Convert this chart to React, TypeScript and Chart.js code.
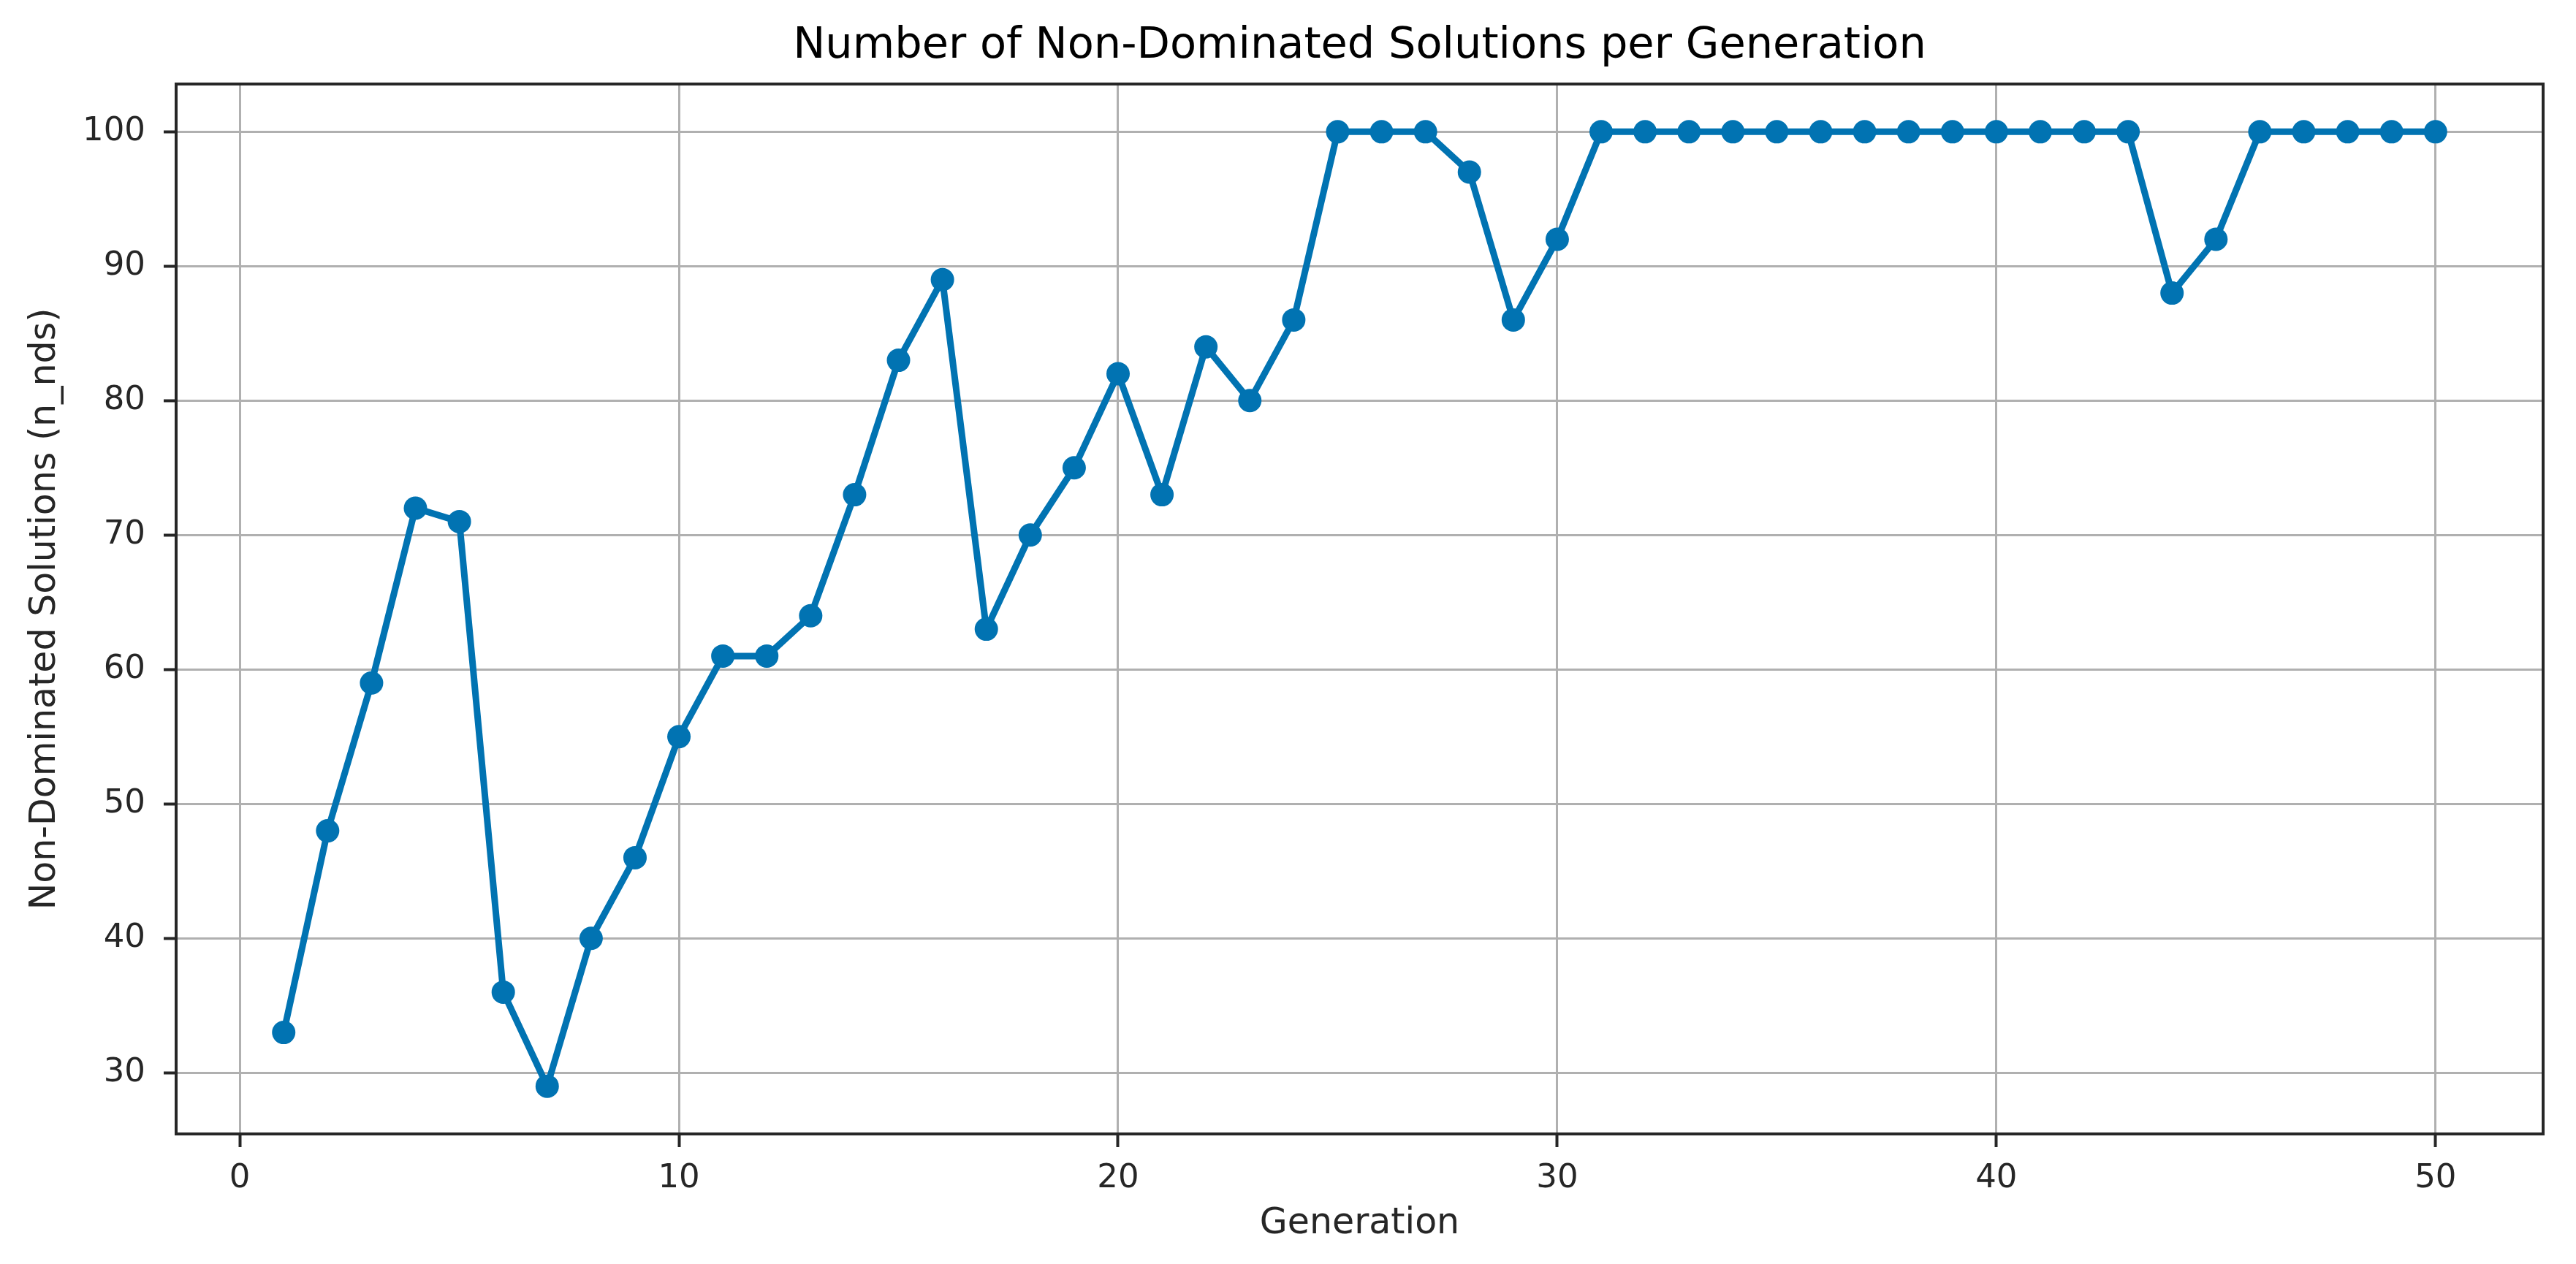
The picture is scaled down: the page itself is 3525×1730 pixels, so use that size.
import React, { useEffect, useRef } from "react";
import { Chart, registerables } from "chart.js";

Chart.register(...registerables);

const chartTitle = "Number of Non-Dominated Solutions per Generation";
const xAxisLabel = "Generation";
const yAxisLabel = "Non-Dominated Solutions (n_nds)";

const generations = [
  1, 2, 3, 4, 5, 6, 7, 8, 9, 10,
  11, 12, 13, 14, 15, 16, 17, 18, 19, 20,
  21, 22, 23, 24, 25, 26, 27, 28, 29, 30,
  31, 32, 33, 34, 35, 36, 37, 38, 39, 40,
  41, 42, 43, 44, 45, 46, 47, 48, 49, 50,
];

const nNds = [
  33, 48, 59, 72, 71, 36, 29, 40, 46, 55,
  61, 61, 64, 73, 83, 89, 63, 70, 75, 82,
  73, 84, 80, 86, 100, 100, 100, 97, 86, 92,
  100, 100, 100, 100, 100, 100, 100, 100, 100, 100,
  100, 100, 100, 88, 92, 100, 100, 100, 100, 100,
];

const xTickValues = [0, 10, 20, 30, 40, 50];
const yTickValues = [30, 40, 50, 60, 70, 80, 90, 100];

const W = 3525;
const H = 1730;
const FONT = "'DejaVu Sans', 'Liberation Sans', sans-serif";
const LINE_COLOR = "#0173B2";
const AXIS_COLOR = "#262626";

const spinePlugin = {
  id: "spines",
  afterLayout(chart: any) {
    const tb = chart.titleBlock;
    if (tb && chart.chartArea) {
      tb.left = chart.chartArea.left;
      tb.right = chart.chartArea.right;
    }
  },
  afterDatasetsDraw(chart: any) {
    const { ctx, chartArea } = chart;
    ctx.save();
    ctx.strokeStyle = AXIS_COLOR;
    ctx.lineWidth = 4;
    ctx.strokeRect(
      chartArea.left,
      chartArea.top,
      chartArea.right - chartArea.left,
      chartArea.bottom - chartArea.top
    );
    ctx.restore();
  },
};

export default function App() {
  const canvasRef = useRef<HTMLCanvasElement | null>(null);

  useEffect(() => {
    document.body.style.margin = "0";
    const canvas = canvasRef.current;
    if (!canvas) return;
    const points = generations.map((g, i) => ({ x: g, y: nNds[i] }));
    const chart = new Chart(canvas, {
      type: "line",
      data: {
        datasets: [
          {
            label: "n_nds",
            data: points,
            borderColor: LINE_COLOR,
            backgroundColor: LINE_COLOR,
            borderWidth: 9,
            pointRadius: 16,
            pointHoverRadius: 16,
            pointBackgroundColor: LINE_COLOR,
            pointBorderWidth: 0,
            tension: 0,
            fill: false,
          },
        ],
      },
      options: {
        animation: false,
        responsive: false,
        devicePixelRatio: 1,
        events: [],
        layout: { padding: { left: 0, right: 45, top: 0, bottom: 0 } },
        plugins: {
          legend: { display: false },
          tooltip: { enabled: false },
          title: {
            display: true,
            text: chartTitle,
            color: "#000000",
            font: { family: FONT, size: 59, weight: "normal" },
            padding: { top: 28.6, bottom: 15.6 },
          },
        },
        scales: {
          x: {
            type: "linear",
            min: -1.45,
            max: 52.45,
            afterFit(scale: any) {
              scale.height = 178;
            },
            afterBuildTicks(scale: any) {
              scale.ticks = xTickValues.map((v) => ({ value: v }));
            },
            grid: {
              color: "#b0b0b0",
              lineWidth: 3,
              tickLength: 18,
              tickColor: AXIS_COLOR,
              tickWidth: 4,
            },
            border: { display: true, color: AXIS_COLOR, width: 4 },
            ticks: {
              color: AXIS_COLOR,
              padding: 16,
              font: { family: FONT, size: 45 },
              maxRotation: 0,
            },
            title: {
              display: true,
              text: xAxisLabel,
              color: AXIS_COLOR,
              font: { family: FONT, size: 49 },
              padding: { top: 0, bottom: 25.6 },
            },
          },
          y: {
            type: "linear",
            min: 25.45,
            max: 103.55,
            afterFit(scale: any) {
              scale.width = 241;
            },
            afterBuildTicks(scale: any) {
              scale.ticks = yTickValues.map((v) => ({ value: v }));
            },
            grid: {
              color: "#b0b0b0",
              lineWidth: 3,
              tickLength: 17,
              tickColor: AXIS_COLOR,
              tickWidth: 4,
            },
            border: { display: true, color: AXIS_COLOR, width: 4 },
            ticks: {
              color: AXIS_COLOR,
              padding: 25,
              font: { family: FONT, size: 45 },
            },
            title: {
              display: true,
              text: yAxisLabel,
              color: AXIS_COLOR,
              font: { family: FONT, size: 49 },
              padding: { top: 32.6, bottom: 0 },
            },
          },
        },
      },
      plugins: [spinePlugin],
    });
    return () => chart.destroy();
  }, []);

  return (
    <div style={{ position: "absolute", left: 0, top: 0, width: W, height: H, background: "#ffffff" }}>
      <canvas ref={canvasRef} width={W} height={H} style={{ width: W, height: H, display: "block" }} />
    </div>
  );
}
